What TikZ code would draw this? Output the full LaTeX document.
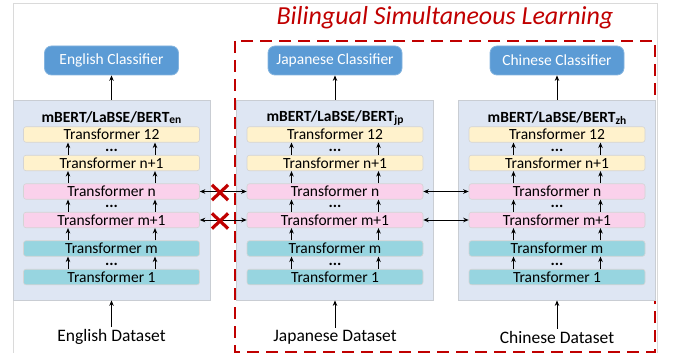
\documentclass[tikz,border=0pt]{standalone}
\usepackage{fontspec}
\setmainfont{Carlito}
\usetikzlibrary{arrows.meta,shapes.misc}
\definecolor{boxblue}{HTML}{DEE6F3}
\definecolor{boxline}{HTML}{C9CDD3}
\definecolor{clsblue}{HTML}{5B9BD5}
\definecolor{layyellow}{HTML}{FFF2CC}
\definecolor{laypink}{HTML}{FAD1EB}
\definecolor{layteal}{HTML}{97D5E0}
\definecolor{darkred}{HTML}{C00000}
\definecolor{framegray}{HTML}{DADADA}
\begin{document}
\begin{tikzpicture}[x=1pt,y=-1pt,
  bigbox/.style={draw=boxline, fill=boxblue, line width=0.8pt, minimum width=197pt, minimum height=200pt, inner sep=0pt},
  layer/.style={draw=black!17, line width=0.6pt, rounded corners=2.5pt, minimum width=176pt, minimum height=15.5pt, inner sep=0pt, font=\fontsize{15.5}{16}\selectfont},
  classbox/.style={fill=clsblue, draw=clsblue!75!white, line width=0.8pt, rounded corners=7pt, minimum width=134pt, minimum height=29pt, inner sep=0pt, text=white, font=\fontsize{15.5}{16}\selectfont},
  boxtitle/.style={inner sep=0pt, font=\fontsize{15.5}{16}\selectfont\bfseries},
  dots/.style={inner sep=0pt, text height=2pt, text depth=0pt, font=\fontsize{16}{16}\selectfont\bfseries},
  datalabel/.style={inner sep=2pt, font=\fontsize{17.5}{18}\selectfont},
  arr/.style={-{Stealth[length=5.5pt,width=4.5pt]}, line width=0.8pt},
  darr/.style={{Stealth[length=5.5pt,width=4.5pt]}-{Stealth[length=5.5pt,width=4.5pt]}, line width=0.8pt},
  redx/.style={cross out, draw=darkred, line width=3.2pt, minimum width=13pt, minimum height=12pt, inner sep=0pt},
  reddash/.style={draw=darkred, line width=2.6pt, dash pattern=on 12pt off 7pt}
]
\useasboundingbox (0,0) rectangle (675,353);
% outer frame
\draw[framegray, line width=0.8pt] (13,360) -- (13,3) -- (657,3) -- (657,360);
% red dashed region
\draw[reddash] (235,41) rectangle (655,352);
\node[text=darkred, inner sep=0pt, font=\fontsize{26}{28}\selectfont\itshape] (bsl) at (445,18) {Bilingual Simultaneous Learning};

\foreach \c/\x/\lang in {en/111.5/English, jp/335/Japanese, zh/557/Chinese} {
  \node[bigbox] (box\c) at (\x,200) {};
  \node[classbox] (cls\c) at (\x,60.5) {\lang\ Classifier};
  \node[boxtitle] (title\c) at (\x,118) {mBERT/LaBSE/BERT\raisebox{-1.2pt}{\fontsize{11.5}{12}\selectfont\c}};
  \node[layer, fill=layyellow] (Ltw\c) at (\x,134.5) {Transformer 12};
  \node[layer, fill=layyellow] (Lnp\c) at (\x,163) {Transformer n+1};
  \node[layer, fill=laypink] (Ln\c) at (\x,191.5) {Transformer n};
  \node[layer, fill=laypink] (Lmp\c) at (\x,220) {Transformer m+1};
  \node[layer, fill=layteal] (Lm\c) at (\x,248.5) {Transformer m};
  \node[layer, fill=layteal] (Lone\c) at (\x,277) {Transformer 1};
  \node[dots] (da\c) at (\x,150) {...};
  \node[dots] (db\c) at (\x,206.5) {...};
  \node[dots] (dc\c) at (\x,264.5) {...};
  \foreach \s in {-43.5,43.5} {
    \draw[arr] ([xshift=\s pt]Lnp\c.north) -- ([xshift=\s pt]Ltw\c.south);
    \draw[arr] ([xshift=\s pt]Ln\c.north) -- ([xshift=\s pt]Lnp\c.south);
    \draw[arr] ([xshift=\s pt]Lmp\c.north) -- ([xshift=\s pt]Ln\c.south);
    \draw[arr] ([xshift=\s pt]Lm\c.north) -- ([xshift=\s pt]Lmp\c.south);
    \draw[arr] ([xshift=\s pt]Lone\c.north) -- ([xshift=\s pt]Lm\c.south);
  }
  \draw[arr] (box\c.north) -- (cls\c.south);
  \node[datalabel] (data\c) at (\x,337) {\lang\ Dataset};
  \draw[arr] (data\c.north) -- (box\c.south);
}

% cross-lingual connections
\draw[darr] (Lnen.east) -- (Lnjp.west);
\draw[darr] (Lmpen.east) -- (Lmpjp.west);
\draw[darr] (Lnjp.east) -- (Lnzh.west);
\draw[darr] (Lmpjp.east) -- (Lmpzh.west);
\node[redx] (xn) at (220,192.5) {};
\node[redx] (xm) at (220,221) {};
\end{tikzpicture}
\end{document}
